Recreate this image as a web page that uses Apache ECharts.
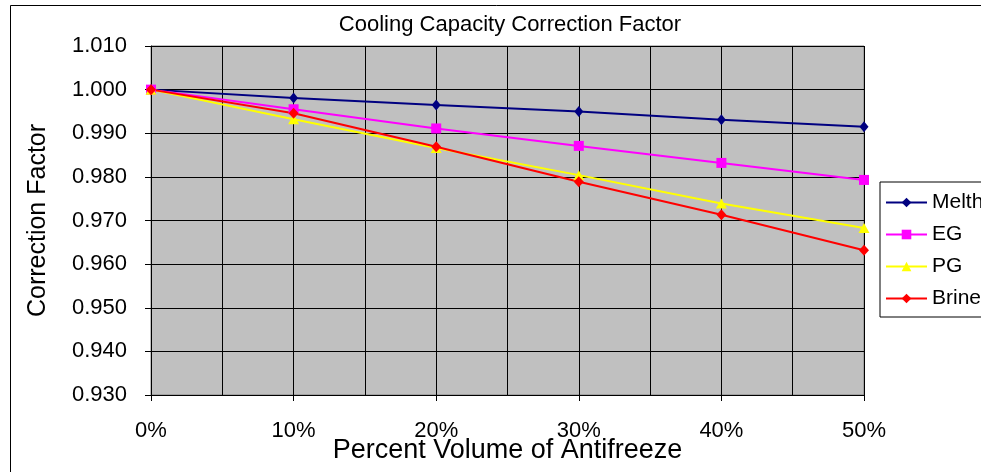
<!DOCTYPE html>
<html>
<head>
<meta charset="utf-8">
<script src="https://cdn.jsdelivr.net/npm/echarts@6/dist/echarts.min.js"></script>
<style>
html,body{margin:0;padding:0;background:#fff;}
#c{width:981px;height:472px;}
</style>
</head>
<body>
<div id="c"></div>
<script>
const percents = [0, 10, 20, 30, 40, 50];
const melth = [1.000, 0.9981, 0.9965, 0.9950, 0.9931, 0.9915];
const eg    = [1.000, 0.9955, 0.9911, 0.9871, 0.9832, 0.9793];
const pg    = [1.000, 0.9932, 0.9866, 0.9804, 0.9739, 0.9683];
const brine = [1.000, 0.9946, 0.9869, 0.9789, 0.9713, 0.9632];
const seriesNames = ['Melth', 'EG', 'PG', 'Brine'];

const pairs = arr => percents.map((p, i) => [p, arr[i]]);
const FONT = 'Liberation Sans, Arial, sans-serif';

const chart = echarts.init(document.getElementById('c'), null, {renderer: 'canvas'});

function mk(name, data, color, symbol, size) {
  return {
    name: name, type: 'line', data: pairs(data),
    symbol: symbol, symbolSize: size,
    lineStyle: {color: color, width: 2},
    itemStyle: {color: color},
    emphasis: {disabled: true},
    animation: false
  };
}

chart.setOption({
  backgroundColor: '#ffffff',
  animation: false,
  graphic: [{
    type: 'rect', z: -10,
    shape: {x: 10.5, y: 5.5, width: 1000, height: 500},
    style: {fill: '#ffffff', stroke: '#000000', lineWidth: 1}
  }],
  title: {
    text: 'Cooling Capacity Correction Factor',
    left: 505, top: 9, textAlign: 'center',
    textStyle: {fontFamily: FONT, fontSize: 22, fontWeight: 'normal', color: '#000'}
  },
  legend: {
    orient: 'vertical', left: 880, top: 182,
    padding: [10, 6, 8, 5],
    itemWidth: 41, itemHeight: 12, itemGap: 11,
    backgroundColor: '#ffffff', borderColor: '#000000', borderWidth: 1,
    textStyle: {fontFamily: FONT, fontSize: 21, color: '#000', lineHeight: 21},
    data: seriesNames
  },
  grid: {
    left: 151, right: 117, top: 46, bottom: 77,
    outerBoundsMode: 'none', containLabel: false,
    show: true, backgroundColor: '#C0C0C0', borderColor: '#808080', borderWidth: 1
  },
  xAxis: {
    type: 'value', min: 0, max: 50, interval: 10,
    name: 'Percent Volume of Antifreeze', nameLocation: 'middle', nameGap: 42,
    nameMoveOverlap: false,
    nameTextStyle: {fontFamily: FONT, fontSize: 27, color: '#000'},
    axisLine: {show: true, lineStyle: {color: '#000', width: 1}},
    axisTick: {show: true, inside: false, length: 6, lineStyle: {color: '#000'}},
    axisLabel: {margin: 25, fontFamily: FONT, fontSize: 22, color: '#000',
      formatter: v => v + '%'},
    splitLine: {show: true, lineStyle: {color: '#000', width: 1}},
    minorTick: {show: false, splitNumber: 2},
    minorSplitLine: {show: true, lineStyle: {color: '#000', width: 1}}
  },
  yAxis: {
    type: 'value', min: 0.93, max: 1.01, interval: 0.01,
    name: 'Correction Factor', nameLocation: 'middle', nameGap: 100,
    nameMoveOverlap: false,
    nameTextStyle: {fontFamily: FONT, fontSize: 25, color: '#000'},
    axisLine: {show: true, lineStyle: {color: '#000', width: 1}},
    axisTick: {show: true, inside: false, length: 6, lineStyle: {color: '#000'}},
    axisLabel: {margin: 24, fontFamily: FONT, fontSize: 22, color: '#000',
      formatter: v => v.toFixed(3)},
    splitLine: {show: true, lineStyle: {color: '#000', width: 1}}
  },
  series: [
    mk('Melth', melth, '#000080', 'diamond', [9, 11]),
    mk('EG', eg, '#FF00FF', 'rect', 10),
    mk('PG', pg, '#FFFF00', 'triangle', [11, 10]),
    mk('Brine', brine, '#FF0000', 'diamond', [10, 11])
  ]
});
</script>
</body>
</html>
